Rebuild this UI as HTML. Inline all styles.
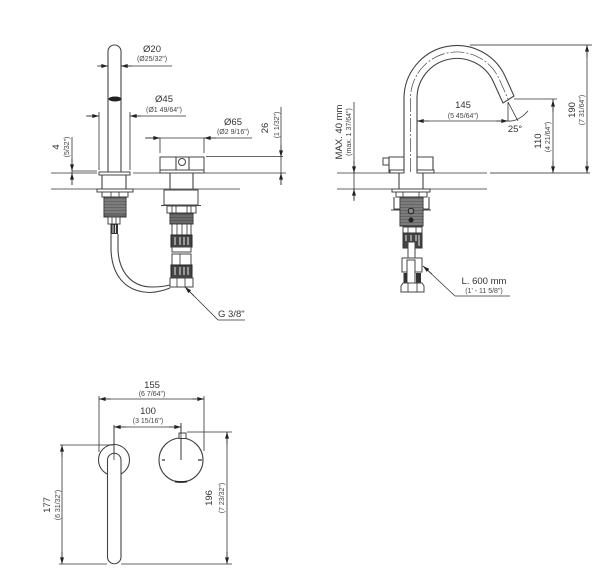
<!DOCTYPE html>
<html><head><meta charset="utf-8">
<style>
html,body{margin:0;padding:0;background:#fff;width:611px;height:585px;overflow:hidden}
svg{display:block;filter:blur(.25px)}
text{font-family:"Liberation Sans",sans-serif;fill:#333}
.m{font-size:9.5px}
.s{font-size:7px;fill:#444}
.l{fill:none;stroke:#333;stroke-width:.8}
.b{fill:none;stroke:#444;stroke-width:1.1}
.f{fill:#fff;stroke:#444;stroke-width:1}
.d{fill:#555;stroke:#333;stroke-width:.6}
.g{fill:none;stroke:#777;stroke-width:1.2}
</style></head><body>
<svg width="611" height="585" viewBox="0 0 611 585" xmlns="http://www.w3.org/2000/svg">
<defs>
<marker id="a" viewBox="0 0 10 6" refX="10" refY="3" markerWidth="8" markerHeight="4" markerUnits="userSpaceOnUse" orient="auto-start-reverse"><path d="M0 0L10 3L0 6z" fill="#222"/></marker>
</defs>

<!-- LEFT VIEW -->
<path class="l" d="M51 173H97M133 173H160M204 173H286"/>
<path class="l" d="M51 189H240"/>
<path class="b" d="M108 172V51.500A6.500 6.500 0 0 1 121 51.500V172"/>
<ellipse cx="115" cy="99" rx="6.500" ry="2.500" fill="#222"/>
<path class="l" d="M97 66H108M121 66H172" />
<path class="l" d="M99 66H108" marker-end="url(#a)"/>
<path class="l" d="M132 66H121" marker-end="url(#a)"/>
<text class="m" x="152" y="52" text-anchor="middle">Ø20</text>
<text class="s" x="152" y="61" text-anchor="middle">(Ø25/32")</text>
<path class="l" d="M99 112V170M130 112V170"/>
<path class="l" d="M86 116H99M130 116H186"/>
<path class="l" d="M87 116H99" marker-end="url(#a)"/>
<path class="l" d="M141 116H130" marker-end="url(#a)"/>
<text class="m" x="164" y="102" text-anchor="middle">Ø45</text>
<text class="s" x="164" y="112" text-anchor="middle">(Ø1 49/64")</text>
<path class="l" d="M160 138V153M204 138V153"/>
<path class="l" d="M145 138H252"/>
<path class="l" d="M146 138H160" marker-end="url(#a)"/>
<path class="l" d="M216 138H204" marker-end="url(#a)"/>
<text class="m" x="233" y="125" text-anchor="middle">Ø65</text>
<text class="s" x="233" y="134" text-anchor="middle">(Ø2 9/16")</text>
<rect x="160" y="157" width="44" height="15" class="f"/>
<path class="b" d="M176 157V170M189 157V170"/>
<circle cx="182" cy="162" r="3.500" class="f" stroke-width="1.300"/>
<rect x="160" y="170" width="44" height="3" class="f"/>
<path class="l" d="M206 156.500H283M281 107V185"/>
<path class="l" d="M281 145V157" marker-end="url(#a)"/>
<path class="l" d="M281 185V173" marker-end="url(#a)"/>
<text class="m" transform="translate(268,128) rotate(-90)" text-anchor="middle">26</text>
<text class="s" transform="translate(279,125) rotate(-90)" text-anchor="middle">(1 1/32")</text>
<path class="l" d="M72 171H97M72 137V185"/>
<path class="l" d="M72 159V171" marker-end="url(#a)"/>
<path class="l" d="M72 185V173" marker-end="url(#a)"/>
<text class="m" transform="translate(59,147) rotate(-90)" text-anchor="middle">4</text>
<text class="s" transform="translate(69,147) rotate(-90)" text-anchor="middle">(5/32")</text>

<!-- left shank -->
<rect x="99" y="172" width="31" height="3" class="f"/>
<path class="b" d="M102 175V189M126 175V189"/>
<rect x="97" y="189" width="36" height="3" class="f"/>
<rect x="102" y="192" width="26" height="5" class="f"/>
<path class="l" d="M111 192V197M119 192V197"/>
<rect x="104" y="197" width="22" height="20" fill="#666" stroke="#333"/>
<path stroke="#bbb" stroke-width=".6" d="M104 200H126M104 203H126M104 206H126M104 209H126M104 212H126"/>
<rect x="108" y="217" width="12" height="7" class="f"/>
<path class="l" d="M112 217V224M116 217V224"/>
<rect x="110.500" y="224" width="7.500" height="10" fill="#333"/>
<path style="fill:none;stroke:#fff;stroke-width:.8" d="M113 225V233M115.500 225V233"/>
<path class="b" d="M111 234V250C112 275 125 292 150 292.500Q160 292 170 288"/>
<path class="b" d="M118 234V250C119 270 130 287 152 287Q162 287 170 285"/>

<!-- right shank -->
<path class="b" d="M170 173V189M193 173V189"/>
<rect x="164" y="190" width="34" height="15" class="f"/>
<path class="b" d="M161 205.500H201" stroke-width="1.500"/>
<rect x="167" y="206" width="29" height="7" class="f"/>
<path class="l" d="M172 206V213M176 206V213M187 206V213M191 206V213"/>
<rect x="170" y="213" width="23" height="11" fill="#555" stroke="#333"/>
<path stroke="#aaa" stroke-width=".6" d="M170 216H193M170 219H193M170 222H193"/>
<rect x="172" y="224" width="19" height="11" class="f"/>
<path class="l" d="M177 224V235M182 224V235M187 224V235"/>
<rect x="171" y="235" width="21" height="12" fill="#444" stroke="#222"/>
<path stroke="#fff" stroke-width=".9" d="M175 237V245M180 237V245M184 237V245M188 237V245"/>
<rect x="172" y="247" width="19" height="5" class="f"/>
<rect x="172" y="254" width="19" height="11" class="f"/>
<path class="l" d="M180 254V265"/>
<rect x="171" y="265" width="21" height="12" fill="#444" stroke="#222"/>
<path stroke="#fff" stroke-width=".9" d="M175 267V275M180 267V275M184 267V275M188 267V275"/>
<rect x="172" y="277" width="19" height="2" class="f"/>
<rect x="170" y="278" width="23" height="9" class="f"/>
<path class="l" d="M177 278V287M185 278V287"/>
<path class="l" d="M218 320L186 288"/>
<path class="l" d="M194 296L185 287" marker-end="url(#a)"/>
<path class="l" d="M218 320H245"/>
<text class="m" x="218" y="317">G 3/8"</text>

<!-- RIGHT VIEW -->
<path class="l" d="M337 173H390M433 173H487M337 189H487"/>
<path class="g" d="M490 173H590"/>
<path class="g" d="M470 45H592"/>
<path class="b" d="M404 172V98A53 53 0 0 1 505 76L514 96L503 103L493 81A40 40 0 0 0 417 98V172"/>
<path d="M410.500 172V98A46.500 46.500 0 0 1 499 78.500L508 99" fill="none" stroke="#444" stroke-width=".7" stroke-dasharray="14 2 2 2"/>
<rect x="383" y="158" width="6" height="7" class="f"/>
<path class="b" d="M404 157H389V172H404M417 157H433V172H417"/>
<rect x="390" y="170" width="14" height="3" class="f"/>
<rect x="417" y="170" width="17" height="3" class="f"/>
<path class="l" d="M354 102V200"/>
<path class="l" d="M354 161V173" marker-end="url(#a)"/>
<path class="l" d="M354 201V189" marker-end="url(#a)"/>
<text class="m" transform="translate(342,132) rotate(-90)" text-anchor="middle">MAX. 40 mm</text>
<text class="s" transform="translate(351,132) rotate(-90)" text-anchor="middle">(max. 1 37/64")</text>
<path class="l" d="M417 121H508"/>
<path class="l" d="M429 121H417" marker-end="url(#a)"/>
<path class="l" d="M496 121H508" marker-end="url(#a)"/>
<text class="m" x="463" y="108" text-anchor="middle">145</text>
<text class="s" x="463" y="118" text-anchor="middle">(5 45/64")</text>
<path class="l" d="M508 102V121M508 102L518 121"/>
<path class="l" d="M508 121Q518 122 528 111"/>
<text class="m" x="515" y="132" text-anchor="middle">25°</text>
<path class="l" d="M514 99H557M553 99V173"/>
<path class="l" d="M553 112V100" marker-end="url(#a)"/>
<path class="l" d="M553 161V173" marker-end="url(#a)"/>
<text class="m" transform="translate(541,141) rotate(-90)" text-anchor="middle">110</text>
<text class="s" transform="translate(550,137) rotate(-90)" text-anchor="middle">(4 21/64")</text>
<path class="l" d="M587 45V173"/>
<path class="l" d="M587 57V45" marker-end="url(#a)"/>
<path class="l" d="M587 161V173" marker-end="url(#a)"/>
<text class="m" transform="translate(575,110) rotate(-90)" text-anchor="middle">190</text>
<text class="s" transform="translate(584,110) rotate(-90)" text-anchor="middle">(7 31/64")</text>

<!-- right view shank -->
<path class="b" d="M399 173V189M423 173V189"/>
<rect x="392" y="189" width="38" height="3" class="f"/>
<rect x="396" y="192" width="31" height="5" class="f"/>
<path class="l" d="M403 192V197M419 192V197"/>
<path class="b" d="M394 197V209H400M429 197V209H423"/>
<path class="b" d="M391 210H431" stroke-width="1.300"/>
<rect x="400" y="197" width="23" height="29" fill="#666" stroke="#333"/>
<path stroke="#bbb" stroke-width=".6" d="M400 200H423M400 203H423M400 206H423M400 209H423M400 212H423M400 215H423M400 218H423M400 221H423M400 224H423"/>
<circle cx="411" cy="211" r="2.800" fill="#888" stroke="#222"/>
<circle cx="411" cy="220" r="2.500" fill="#222"/>
<rect x="403" y="227" width="19" height="6" class="f"/>
<path class="l" d="M408 227V233M416 227V233"/>
<rect x="403" y="233" width="19" height="15" fill="#444" stroke="#333"/>
<path stroke="#fff" stroke-width=".9" d="M406 235V241M411 235V241M416 235V241M419 235V246"/>
<rect x="408" y="242" width="7" height="17" fill="#fff" stroke="#444"/>
<rect x="402" y="258" width="20" height="14" class="f"/>
<rect x="407" y="260" width="8" height="24" fill="#fff" stroke="#444"/>
<rect x="403.500" y="273" width="3.500" height="10" fill="#333"/>
<rect x="416" y="273" width="5" height="10" fill="#333"/>
<path class="f" d="M401 286L403 283H422L424 286V292H401Z"/>
<path class="l" d="M408 283V292M417 283V292"/>
<path class="l" d="M455 296L423 266"/>
<path class="l" d="M432 274L423 266" marker-end="url(#a)"/>
<path class="l" d="M455 296H510"/>
<text class="m" x="484" y="284" text-anchor="middle">L. 600 mm</text>
<text class="s" x="484" y="293" text-anchor="middle">(1' - 11 5/8")</text>

<!-- BOTTOM VIEW -->
<path class="l" d="M99 396V452M204 396V451"/>
<path class="l" d="M99 399H204"/>
<path class="l" d="M111 399H99" marker-end="url(#a)"/>
<path class="l" d="M192 399H204" marker-end="url(#a)"/>
<text class="m" x="152" y="388" text-anchor="middle">155</text>
<text class="s" x="152" y="396" text-anchor="middle">(6 7/64")</text>
<path class="l" d="M114 425V460M181 423V460"/>
<path class="l" d="M114 427H181"/>
<path class="l" d="M126 427H114" marker-end="url(#a)"/>
<path class="l" d="M169 427H181" marker-end="url(#a)"/>
<text class="m" x="148" y="414" text-anchor="middle">100</text>
<text class="s" x="148" y="423" text-anchor="middle">(3 15/16")</text>
<circle cx="114" cy="460" r="15.500" fill="none" stroke="#444" stroke-width="1.100"/>
<path d="M107.500 460A6.750 6.750 0 0 1 121 460V557A6.750 6.750 0 0 1 107.500 557Z" fill="#fff" stroke="#444" stroke-width="1.100"/>
<path class="l" d="M114 425V460"/>
<circle cx="181" cy="460" r="22" fill="none" stroke="#444" stroke-width="1.100"/>
<rect x="179" y="433" width="7" height="5.500" class="f"/>
<path class="l" d="M181 423V460"/>
<path d="M162 460H165M198 460H202" stroke="#333" stroke-width="1.300"/>
<path d="M175 481.500Q181 482.500 187 481.500" fill="none" stroke="#222" stroke-width="1.800"/>
<path class="l" d="M60 445H113M62 445V564"/>
<path class="l" d="M62 457V445" marker-end="url(#a)"/>
<path class="l" d="M62 552V564" marker-end="url(#a)"/>
<path class="l" d="M59 564H107M121 564H232"/>
<text class="m" transform="translate(50,505) rotate(-90)" text-anchor="middle">177</text>
<text class="s" transform="translate(60,505) rotate(-90)" text-anchor="middle">(6 31/32")</text>
<path class="l" d="M187 432H232M227 432V564"/>
<path class="l" d="M227 444V432" marker-end="url(#a)"/>
<path class="l" d="M227 552V564" marker-end="url(#a)"/>
<text class="m" transform="translate(212,498) rotate(-90)" text-anchor="middle">196</text>
<text class="s" transform="translate(224,498) rotate(-90)" text-anchor="middle">(7 23/32")</text>
</svg>
</body></html>
